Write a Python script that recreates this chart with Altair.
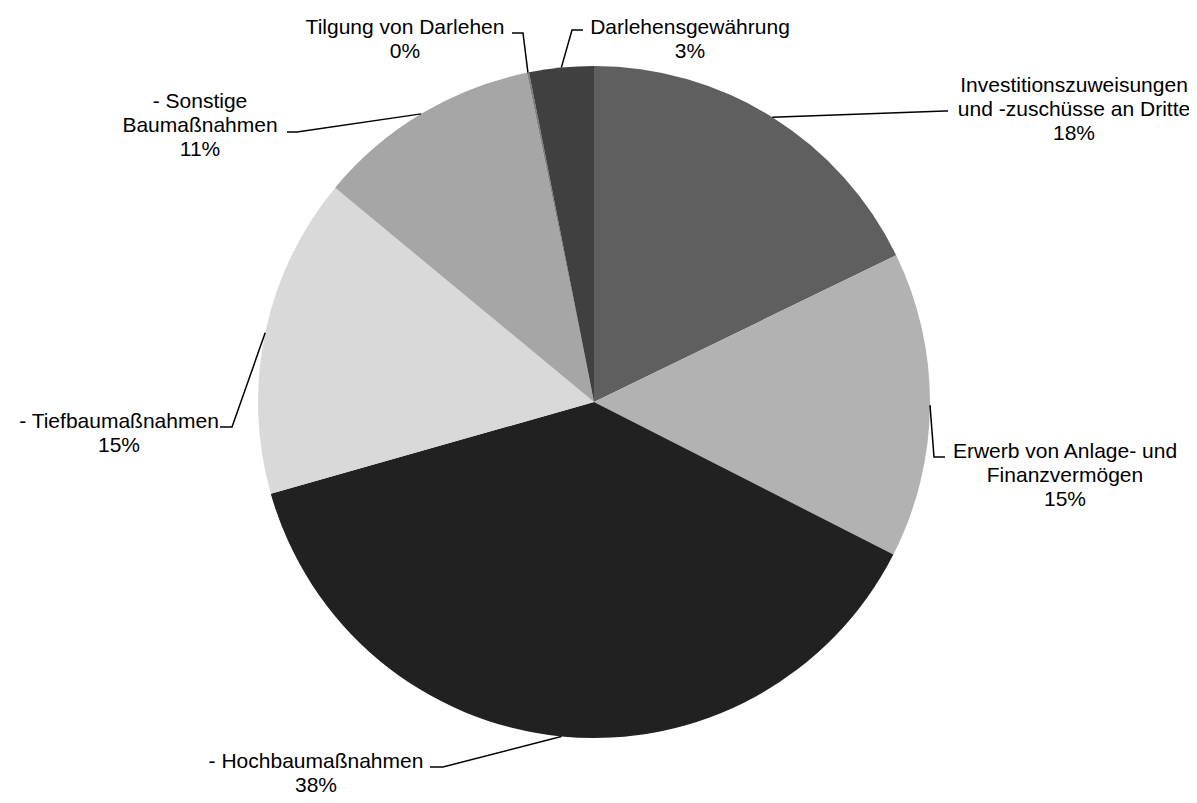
import math
import altair as alt
import pandas as pd

# ---- data ----
categories = [
    "Investitionszuweisungen und -zuschüsse an Dritte",
    "Erwerb von Anlage- und Finanzvermögen",
    "- Hochbaumaßnahmen",
    "- Tiefbaumaßnahmen",
    "- Sonstige Baumaßnahmen",
    "Tilgung von Darlehen",
    "Darlehensgewährung",
]
shares = [17.8, 14.7, 38.1, 15.4, 10.8, 0.1, 3.1]
label_lines = [
    ["Investitionszuweisungen", "und -zuschüsse an Dritte"],
    ["Erwerb von Anlage- und", "Finanzvermögen"],
    ["- Hochbaumaßnahmen"],
    ["- Tiefbaumaßnahmen"],
    ["- Sonstige", "Baumaßnahmen"],
    ["Tilgung von Darlehen"],
    ["Darlehensgewährung"],
]

# ---- styles / layout ----
palette = ["#5f5f5f", "#b2b2b2", "#212121", "#d9d9d9", "#a6a6a6", "#808080", "#404040"]
CX, CY, R = 586, 394, 336
W, H = 1181, 787
# label anchor (centre x, first baseline y) and leader elbow / end points
label_anchor = [(1066, 84), (1057, 450), (308, 760), (111, 420), (192, 100), (397, 26), (682, 26)]
leader_elbow = [(937, 103), (926, 449), (435, 759), (224, 419), (289, 124), (515, 25), (564, 22)]
leader_end = [(940, 103), (937, 449), (422, 759), (212, 419), (279, 124), (504, 25), (575, 22)]

total = sum(shares)
pie_df = pd.DataFrame({"category": categories, "share": shares, "order": list(range(len(shares)))})

line_rows = []
text_rows = []
cum = 0.0
for i, (cat, s) in enumerate(zip(categories, shares)):
    mid = (cum + s / 2) / total * 2 * math.pi
    cum += s
    sx = CX + R * math.sin(mid)
    sy = CY - R * math.cos(mid)
    pts = [(sx, sy), leader_elbow[i], leader_end[i]]
    for j, (px, py) in enumerate(pts):
        line_rows.append({"category": cat, "k": j, "px": px, "py": py})
    pct = f"{round(s / total * 100)}%"
    text_rows.append({
        "category": cat,
        "label": "\n".join(label_lines[i] + [pct]),
        "tx": label_anchor[i][0],
        "ty": label_anchor[i][1],
    })

line_df = pd.DataFrame(line_rows)
text_df = pd.DataFrame(text_rows)

pie = alt.Chart(pie_df).mark_arc(radius=R).encode(
    theta=alt.Theta("share:Q", stack=True),
    order=alt.Order("order:Q"),
    color=alt.Color("category:N", scale=alt.Scale(domain=categories, range=palette), legend=None),
    x=alt.value(CX),
    y=alt.value(CY),
)

leaders = alt.Chart(line_df).mark_line(color="black", strokeWidth=1.5).encode(
    x=alt.X("px:Q", scale=None, axis=None),
    y=alt.Y("py:Q", scale=None, axis=None),
    detail="category:N",
    order="k:Q",
)

labels = alt.Chart(text_df).mark_text(
    font="Liberation Sans", fontSize=21, lineBreak="\n", lineHeight=24,
    align="center", baseline="alphabetic", color="black",
).encode(
    x=alt.X("tx:Q", scale=None, axis=None),
    y=alt.Y("ty:Q", scale=None, axis=None),
    text="label:N",
)

chart = alt.layer(pie, leaders, labels).properties(
    width=W, height=H, padding=0, autosize="none", background="white"
).configure_view(stroke=None)

chart.save("out.html", embed_options={"renderer": "svg", "actions": False})
